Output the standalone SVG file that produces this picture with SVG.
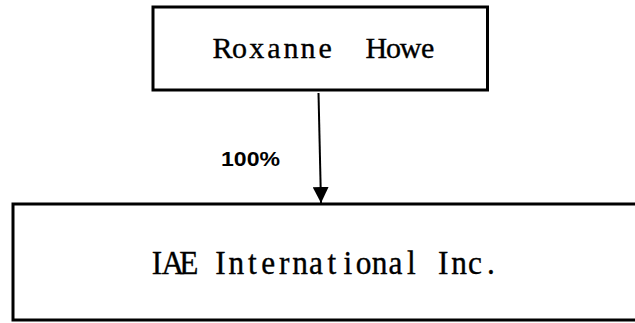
<svg xmlns="http://www.w3.org/2000/svg" width="635" height="323" viewBox="0 0 635 323">
<style>
.box{fill:#fff;stroke:#000;stroke-width:3}
.t{font-family:"Liberation Serif","DejaVu Serif",serif;fill:#000;stroke:#000;stroke-width:0.35;text-anchor:middle;white-space:pre}
.lbl{font-family:"Liberation Sans","Open Sans",sans-serif;font-weight:bold;fill:#000}
.conn{stroke:#000;stroke-width:2;fill:none}
</style>
<defs>
<marker id="ah" markerUnits="userSpaceOnUse" markerWidth="16" markerHeight="16" viewBox="0 0 16 16" refX="16" refY="8" orient="auto">
<path d="M0,0 L16,8 L0,16 Z" fill="#000"/>
</marker>
</defs>
<rect width="635" height="323" fill="#fff"/>
<g id="connectors">
<line class="conn" x1="318.5" y1="93" x2="321" y2="203" marker-end="url(#ah)"/>
<text class="lbl" x="221" y="166" font-size="20" textLength="59" lengthAdjust="spacingAndGlyphs">100%</text>
</g>
<g id="node-roxanne">
<rect class="box" x="153" y="7" width="334.5" height="83"/>
<text class="t" y="58" font-size="30" xml:space="preserve" x="222.5 239.6 256.7 273.8 290.9 308.0 325.1 342.2 359.3 376.4 393.5 410.6 427.7">Roxanne  Howe</text>
</g>
<g id="node-iae">
<rect class="box" x="13" y="204" width="640" height="116"/>
<text class="t" transform="scale(0.95,1)" y="274" font-size="33" xml:space="preserve" x="165.2 181.9 198.7 215.4 232.2 248.9 265.6 282.4 299.1 315.8 332.6 349.3 366.1 382.8 399.5 416.3 433.0 449.7 466.5 483.2 499.9 516.7">IAE International Inc.</text>
</g>
</svg>
